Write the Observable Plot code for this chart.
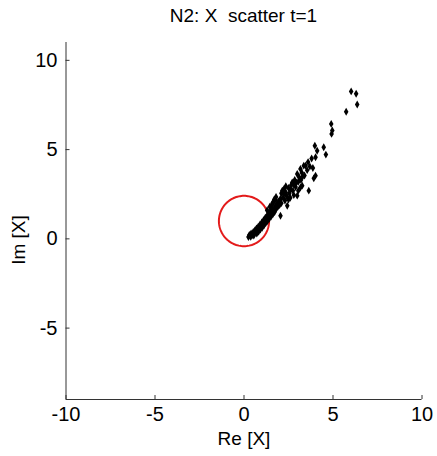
<!DOCTYPE html>
<html><head><meta charset="utf-8">
<script src="https://cdn.jsdelivr.net/npm/d3@7"></script>
<script src="https://cdn.jsdelivr.net/npm/@observablehq/plot@0.6"></script>
<style>
body{margin:0;background:#fff;font-family:"Liberation Sans",Arial,sans-serif;}
#wrap{position:relative;width:437px;height:456px;}
#title{position:absolute;left:65.5px;width:356px;top:5px;text-align:center;font-size:19px;color:#000;white-space:pre;}
#ylab{position:absolute;left:19px;top:240px;transform:translate(-50%,-50%) rotate(-90deg);font-size:19px;color:#000;white-space:nowrap;}
#chart{position:absolute;left:0;top:34px;}
</style></head><body>
<div id="wrap"><div id="title"></div><div id="chart"></div><div id="ylab"></div></div>
<script>
const title = "N2: X  scatter t=1";
const xLabel = "Re [X]";
const yLabel = "Im [X]";
const xTicks = [-10, -5, 0, 5, 10];
const yTicks = [-5, 0, 5, 10];
const xDomain = [-10, 10];
const yDomain = [-9, 11];
const circleCenter = [0, 1];
const circleRadius = 1.41;

const re = [0.25,0.30,0.38,0.40,0.48,0.52,0.58,0.55,0.62,0.68,0.72,0.70,0.78,0.82,0.80,0.88,0.92,0.90,0.98,1.02,1.00,1.08,1.12,1.10,1.18,1.22,1.20,1.28,1.32,1.30,1.38,1.42,1.40,1.48,1.52,1.50,1.58,1.62,1.60,1.68,1.72,1.75,1.82,
 1.85,1.95,1.90,2.00,2.05,2.10,2.15,2.24,2.20,2.30,2.35,2.43,2.40,2.50,2.55,2.60,2.65,2.71,2.75,2.80,2.85,2.90,2.99,2.99,3.05,3.10,3.17,3.17,3.27,3.25,3.36,3.40,3.46,3.55,3.64,3.60,3.70,3.87,3.92,3.80,3.98,4.02,4.02,4.11,4.48,4.60,4.90,4.96,4.92,5.74,6.02,6.30,6.36,2.05,
 1.30,1.45,1.55,1.60,1.70,1.80,1.65,1.78,2.10,2.25,2.35,2.50,2.62,2.78,2.95,3.05,3.20,3.30];
const im = [0.10,0.22,0.12,0.30,0.22,0.38,0.30,0.18,0.48,0.40,0.30,0.58,0.50,0.40,0.68,0.62,0.52,0.80,0.72,0.62,0.92,0.85,0.75,1.05,0.98,0.88,1.18,1.10,1.00,1.30,1.22,1.12,1.42,1.35,1.25,1.55,1.48,1.38,1.68,1.60,1.50,1.82,1.70,
 1.95,2.10,1.80,1.90,2.25,2.00,2.70,2.51,2.30,2.15,2.60,1.85,2.40,2.85,2.55,2.30,3.00,3.16,2.70,2.45,3.30,2.90,2.42,3.63,3.20,3.45,2.88,3.92,2.98,3.70,4.10,3.55,4.10,3.85,2.70,4.30,4.05,3.97,3.39,4.50,5.22,3.54,4.57,4.94,5.13,4.72,6.44,6.07,5.88,7.12,8.26,8.13,7.53,1.29,
 1.60,1.80,1.85,2.00,2.20,2.35,2.05,2.20,2.55,2.80,2.95,2.20,2.75,3.05,3.15,2.70,3.30,3.50];

const pts = re.map((x, i) => ({x, y: im[i]}));
const circle = d3.range(0, 361, 3).map(a => ({
  x: circleCenter[0] + circleRadius * Math.cos(a * Math.PI / 180),
  y: circleCenter[1] + circleRadius * Math.sin(a * Math.PI / 180)
}));

document.getElementById("title").textContent = title;
document.getElementById("ylab").textContent = yLabel;

const fmt = d => String(d);

const plot = Plot.plot({
  width: 437,
  height: 422,
  marginLeft: 65.5,
  marginRight: 15.5,
  marginTop: 8,
  marginBottom: 57,
  style: {fontFamily: "Liberation Sans, Arial, sans-serif", fontSize: "20px", color: "#000", background: "#fff"},
  x: {domain: xDomain},
  y: {domain: yDomain},
  marks: [
    Plot.ruleX([xDomain[0]], {stroke: "#333"}),
    Plot.ruleY([yDomain[0]], {stroke: "#333"}),
    Plot.axisX({ticks: xTicks, tickFormat: fmt, tickSize: -4, tickPadding: 11, label: null, stroke: "#333", fontSize: 20}),
    Plot.axisY({ticks: yTicks, tickFormat: fmt, tickSize: -4, tickPadding: 12.5, label: null, stroke: "#333", fontSize: 20}),
    Plot.line(circle, {x: "x", y: "y", stroke: "#e31a1a", strokeWidth: 2}),
    Plot.dot(pts, {x: "x", y: "y", symbol: "diamond", r: 2.4, fill: "#000"}),
    Plot.text([xLabel], {frameAnchor: "bottom", dy: 45, fontSize: 19})
  ]
});
document.getElementById("chart").appendChild(plot);
</script>
</body></html>
